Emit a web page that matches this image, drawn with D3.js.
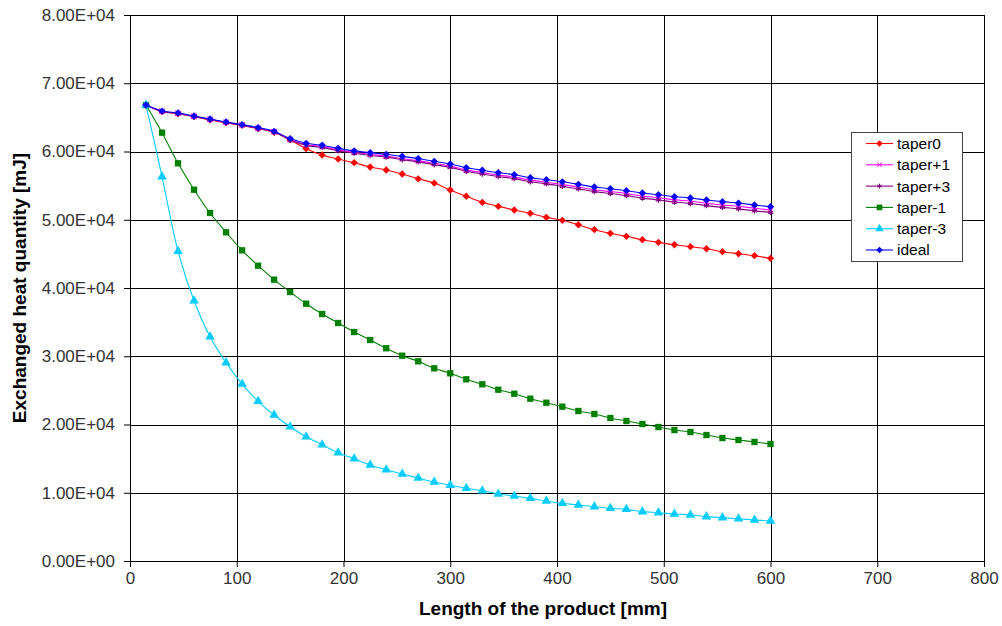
<!doctype html>
<html lang="en">
<head>
<meta charset="UTF-8">
<title>Exchanged heat quantity</title>
<script src="https://d3js.org/d3.v7.min.js"></script>
<style>
  body { margin: 0; background: #fff; }
  text { font-family: "Liberation Sans", Arial, sans-serif; }
</style>
</head>
<body>
<script>
  // data (x in mm, y in mJ)
  var lengths = [15, 30, 45, 60, 75, 90, 105, 120, 135, 150, 165, 180, 195, 210, 225, 240, 255, 270, 285, 300,
                 315, 330, 345, 360, 375, 390, 405, 420, 435, 450, 465, 480, 495, 510, 525, 540, 555, 570, 585, 600];

  var taper0 = [66800, 65840, 65540, 65100, 64620, 64220, 63830, 63350, 62810, 61690, 60410, 59490, 58900, 58360, 57730, 57290, 56700, 56000, 55380, 54360,
                53440, 52560, 51970, 51430, 50940, 50350, 49920, 49270, 48540, 48010, 47570, 47070, 46690, 46340, 46050, 45750, 45320, 45020, 44730, 44350];

  var taperP1 = [66800, 65900, 65600, 65150, 64720, 64280, 63880, 63400, 62900, 61750, 61000, 60720, 60230, 59880, 59570, 59330, 58970, 58660, 58260, 57860,
                 57310, 56920, 56560, 56250, 55800, 55500, 55150, 54800, 54400, 54130, 53830, 53480, 53220, 52920, 52720, 52420, 52170, 51970, 51680, 51430];

  var taperP3 = [66800, 65880, 65580, 65120, 64690, 64250, 63850, 63360, 62850, 61680, 60900, 60600, 60100, 59740, 59420, 59170, 58800, 58480, 58070, 57670,
                 57110, 56710, 56340, 56020, 55560, 55250, 54890, 54530, 54120, 53840, 53530, 53170, 52900, 52590, 52380, 52070, 51810, 51600, 51300, 51090];

  var taperM1 = [66800, 62760, 58270, 54400, 50990, 48160, 45520, 43270, 41220, 39410, 37700, 36190, 34870, 33550, 32380, 31170, 30080, 29260, 28230, 27500,
                 26620, 25890, 25100, 24510, 23780, 23190, 22610, 21980, 21540, 20950, 20510, 20070, 19630, 19190, 18900, 18460, 18020, 17730, 17440, 17140];

  var taperM3 = [66800, 56310, 45380, 38140, 32860, 29060, 25930, 23400, 21390, 19680, 18210, 17040, 15870, 14990, 14070, 13380, 12750, 12160, 11580, 11090,
                 10650, 10300, 9820, 9520, 9180, 8790, 8450, 8200, 7960, 7720, 7570, 7230, 7080, 6890, 6740, 6500, 6350, 6200, 6010, 5860];

  var ideal = [66800, 65930, 65640, 65200, 64760, 64320, 63930, 63500, 62950, 61900, 61200, 60920, 60460, 60090, 59830, 59590, 59290, 58970, 58560, 58170,
               57630, 57250, 56890, 56600, 56160, 55870, 55560, 55190, 54800, 54550, 54260, 53920, 53670, 53380, 53190, 52890, 52650, 52450, 52160, 51910];

  var xTicks = [0, 100, 200, 300, 400, 500, 600, 700, 800];
  var yTicks = [0, 10000, 20000, 30000, 40000, 50000, 60000, 70000, 80000];

  var series = [
    {name: "taper0", values: taper0, color: "#ff0000", symbol: d3.symbolDiamond2, size: 34, stroke: false},
    {name: "taper+1", values: taperP1, color: "#ff00ff", symbol: d3.symbolTimes, size: 20, stroke: true},
    {name: "taper+3", values: taperP3, color: "#800080", symbol: d3.symbolAsterisk, size: 20, stroke: true},
    {name: "taper-1", values: taperM1, color: "#008000", symbol: d3.symbolSquare, size: 40, stroke: false},
    {name: "taper-3", values: taperM3, color: "#00ccff", symbol: d3.symbolTriangle, size: 40, stroke: false},
    {name: "ideal", values: ideal, color: "#0000ff", symbol: d3.symbolDiamond2, size: 34, stroke: false}
  ];

  var width = 1002, height = 626;
  var margin = {top: 15, right: 18, bottom: 65, left: 130};
  var w = width - margin.left - margin.right,
      h = height - margin.top - margin.bottom;

  var svg = d3.select("body").append("svg")
      .attr("width", width)
      .attr("height", height);

  var g = svg.append("g").attr("transform", "translate(" + margin.left + "," + margin.top + ")");

  var x = d3.scaleLinear().domain([0, 800]).range([0, w]);
  var y = d3.scaleLinear().domain([0, 80000]).range([h, 0]);

  function sci(v) {
    var s = v.toExponential(2).split("e");
    var e = parseInt(s[1], 10);
    return s[0] + "E" + (e < 0 ? "-" : "+") + (Math.abs(e) < 10 ? "0" : "") + Math.abs(e);
  }

  // grid
  g.append("g")
      .selectAll("line")
      .data(yTicks)
      .join("line")
      .attr("x1", 0).attr("x2", w)
      .attr("y1", function(d) { return Math.round(y(d)) + 0.5; })
      .attr("y2", function(d) { return Math.round(y(d)) + 0.5; })
      .attr("stroke", "#000");

  g.append("g")
      .selectAll("line")
      .data(xTicks)
      .join("line")
      .attr("y1", 0).attr("y2", h)
      .attr("x1", function(d) { return Math.round(x(d)) + 0.5; })
      .attr("x2", function(d) { return Math.round(x(d)) + 0.5; })
      .attr("stroke", "#000");

  // axes
  var axisX = d3.axisBottom(x).tickValues(xTicks).tickSizeOuter(0).tickSize(6).tickPadding(5);
  var axisY = d3.axisLeft(y).tickValues(yTicks).tickFormat(sci).tickSizeOuter(0).tickSize(6).tickPadding(9);

  var gx = g.append("g").attr("transform", "translate(0," + h + ")").call(axisX);
  var gy = g.append("g").call(axisY);
  [gx, gy].forEach(function(a) {
    a.select(".domain").attr("stroke", "#000");
    a.selectAll(".tick line").attr("stroke", "#000");
    a.selectAll("text").attr("fill", "#333").style("font-size", "17px")
        .style("font-family", "'Liberation Sans', Arial, sans-serif");
  });

  // lines and markers
  var line = d3.line()
      .x(function(d, i) { return x(lengths[i]); })
      .y(function(d) { return y(d); })
      .curve(d3.curveCatmullRom.alpha(0.5));

  series.forEach(function(s) {
    g.append("path")
        .datum(s.values)
        .attr("d", line)
        .attr("fill", "none")
        .attr("stroke", s.color)
        .attr("stroke-width", 1.1);

    g.append("g")
        .selectAll("path")
        .data(s.values)
        .join("path")
        .attr("transform", function(d, i) { return "translate(" + x(lengths[i]) + "," + y(d) + ")"; })
        .attr("d", d3.symbol().type(s.symbol).size(s.size))
        .attr("fill", s.stroke ? "none" : s.color)
        .attr("stroke", s.stroke ? s.color : "none")
        .attr("stroke-width", 1.2);
  });

  // axis titles
  svg.append("text")
      .attr("x", 543)
      .attr("y", 615)
      .attr("text-anchor", "middle")
      .style("font-size", "19px")
      .style("font-weight", "bold")
      .text("Length of the product [mm]");

  svg.append("text")
      .attr("transform", "translate(26," + (margin.top + h / 2) + ") rotate(-90)")
      .attr("text-anchor", "middle")
      .style("font-size", "19px")
      .style("font-weight", "bold")
      .text("Exchanged heat quantity [mJ]");

  // legend
  var lg = svg.append("g").attr("transform", "translate(851,132)");
  lg.append("rect")
      .attr("x", 0.5).attr("y", 0.5)
      .attr("width", 111).attr("height", 129)
      .attr("fill", "#fff")
      .attr("stroke", "#444");

  var item = lg.selectAll("g.item")
      .data(series)
      .join("g")
      .attr("class", "item")
      .attr("transform", function(d, i) { return "translate(0," + (11.5 + i * 21.3) + ")"; });

  item.append("line")
      .attr("x1", 15).attr("x2", 42)
      .attr("stroke", function(d) { return d.color; })
      .attr("stroke-width", 1.1);

  item.append("path")
      .attr("transform", "translate(28.5,0)")
      .attr("d", function(d) { return d3.symbol().type(d.symbol).size(d.size * 0.8)(); })
      .attr("fill", function(d) { return d.stroke ? "none" : d.color; })
      .attr("stroke", function(d) { return d.stroke ? d.color : "none"; });

  item.append("text")
      .attr("x", 46)
      .attr("dy", "0.35em")
      .style("font-size", "15.5px")
      .attr("fill", "#000")
      .text(function(d) { return d.name; });
</script>
</body>
</html>
